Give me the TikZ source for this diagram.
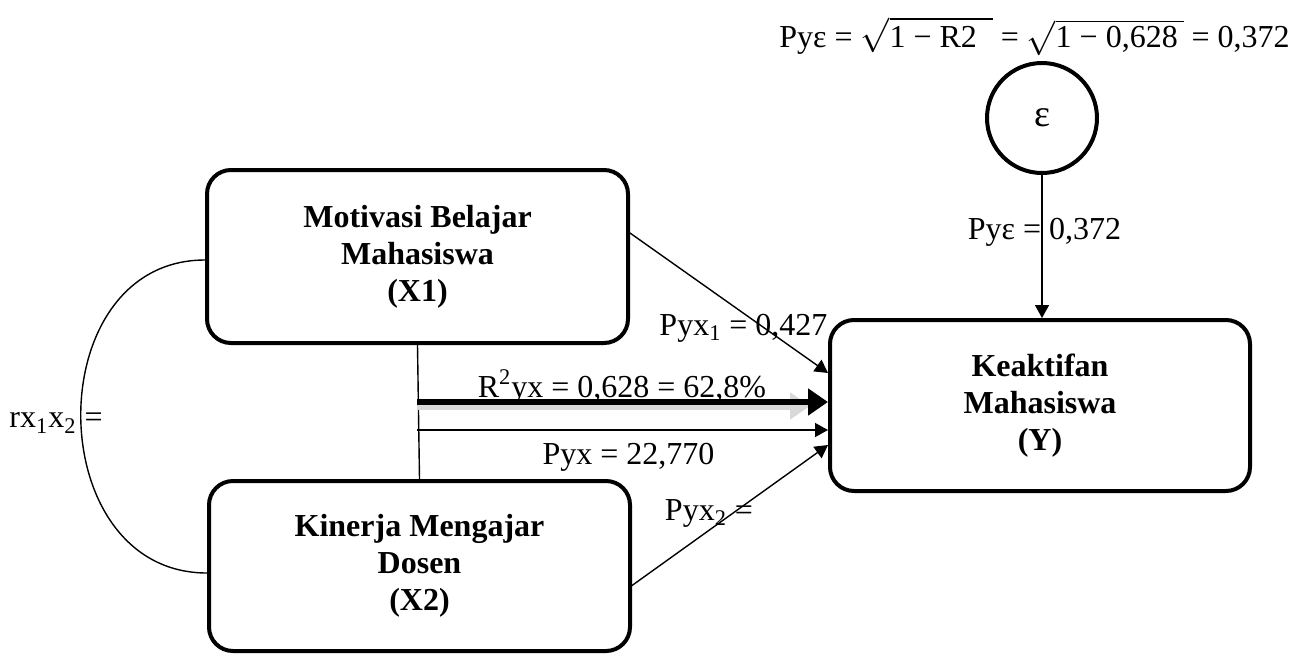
\documentclass[tikz,border=0pt]{standalone}
\usepackage{fontspec}
\setmainfont{Liberation Serif}
\usetikzlibrary{arrows.meta}

\begin{document}
\begin{tikzpicture}[x=0.5pt,y=-0.5pt,
  varbox/.style={draw,line width=2pt,rounded corners=12pt,minimum width=210.5pt,minimum height=86.5pt,align=center,font=\fontsize{16}{18.5}\selectfont\bfseries},
  lbl/.style={font=\fontsize{16}{19}\selectfont,inner sep=0pt},
  jalur/.style={-{Triangle[length=6.5pt,width=7pt]},line width=0.7pt}]
\useasboundingbox (0,0) rectangle (1313,654);
% variabel
\node[varbox] (X1) at (417.5,256.5) {Motivasi Belajar\\Mahasiswa\\(X1)};
\node[varbox,minimum height=85pt] (X2) at (419.5,566) {Kinerja Mengajar\\Dosen\\(X2)};
\node[varbox,minimum width=210pt,minimum height=85.5pt] (Y) at (1040,405.5) {Keaktifan\\Mahasiswa\\(Y)};
\node[draw,circle,line width=2pt,minimum size=55pt,inner sep=0pt,font=\fontsize{19}{19}\selectfont] (eps) at (1042,118) {ε};
% jalur
\draw[line width=0.7pt] (X1.south) -- (X2.north);
\coordinate (jA) at (417,402);
\coordinate (jB) at (417,430);
\draw[-{Triangle[length=10pt,width=13pt]},line width=3.3pt,preaction={draw=black!15,line width=4pt,transform canvas={yshift=-2pt},shorten >=9pt}] (jA) -- (jA -| Y.west);
\draw[jalur] (jB) -- (jB -| Y.west);
\draw[jalur] ([yshift=11.75pt]X1.east) -- ([yshift=16.25pt]Y.west);
\draw[jalur] ([yshift=-9.75pt]X2.east) -- ([yshift=-19.75pt]Y.west);
\draw[jalur] (eps.south) -- (eps.south |- Y.north);
\draw[line width=0.7pt] ([yshift=-1.75pt]X1.west) .. controls +(-167,0) and +(-167,0) .. ([yshift=-3.5pt]X2.west);
% keterangan
\node[lbl] (rumus) at (1034.5,36) {Pyε = $\sqrt{\mbox{1 − R2\ \ }}$ = $\sqrt{\mbox{1 − 0,628}\,}$ = 0,372};
\node[lbl] (pe) at (1044.5,232) {Pyε = 0,372};
\node[lbl] (p1) at (743.5,328) {Pyx\textsubscript{1} = 0,427};
\node[lbl] (r2) at (622,387) {R\textsuperscript{2}yx = 0,628 = 62,8\%};
\node[lbl] (px) at (628.5,457) {Pyx = 22,770};
\node[lbl] (p2) at (709,513) {Pyx\textsubscript{2} =};
\node[lbl] (r12) at (56,423) {rx\textsubscript{1}x\textsubscript{2} =};
\end{tikzpicture}
\end{document}
